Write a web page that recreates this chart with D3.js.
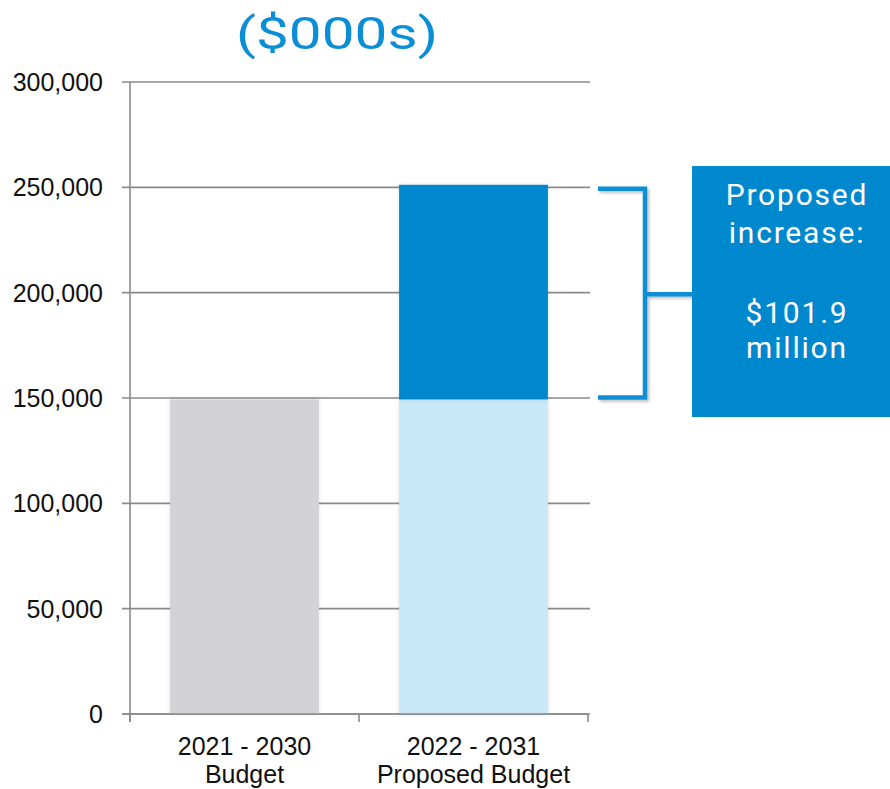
<!DOCTYPE html>
<html><head><meta charset="utf-8">
<script src="https://cdn.jsdelivr.net/npm/d3@7"></script>
<style>body{margin:0;background:#fff}svg{display:block}</style>
</head><body>
<svg id="c" width="890" height="789"></svg>
<script>
const categories = [["2021 - 2030","Budget"],["2022 - 2031","Proposed Budget"]];
const baseValues = [149300, 149300];
const increaseValues = [0, 101900];
const yTicks = [0,50000,100000,150000,200000,250000,300000];
const titleText = "($000s)";
const calloutLines = ["Proposed","increase:","","$101.9","million"];

(function(){
const svg = d3.select("#c");
const defs = svg.append("defs");
const f = defs.append("filter").attr("id","sh").attr("x","-20%").attr("y","-20%").attr("width","140%").attr("height","140%");
f.append("feDropShadow").attr("dx",2).attr("dy",2).attr("stdDeviation",1.5).attr("flood-color","#000").attr("flood-opacity",0.25);
const f2 = defs.append("filter").attr("id","sh2").attr("x","-10%").attr("y","-10%").attr("width","120%").attr("height","120%");
f2.append("feDropShadow").attr("dx",0).attr("dy",0).attr("stdDeviation",2).attr("flood-color","#000").attr("flood-opacity",0.12);

const x0 = 130, x1 = 588, yTop = 82, yBot = 714;
const y = d3.scaleLinear().domain([0,300000]).range([yBot,yTop]);
const x = d3.scaleBand().domain(categories.map(d=>d[0])).range([x0,x1]).paddingInner(0.35).paddingOuter(0.175);

svg.append("text").attr("x",236).attr("y",49)
  .attr("textLength",202).attr("lengthAdjust","spacingAndGlyphs")
  .attr("font-family","Roboto, sans-serif").attr("font-size",45).attr("fill","#0A8ED6").text(titleText);

svg.append("g").selectAll("line").data(yTicks).join("line")
  .attr("x1",122).attr("x2",x1+2).attr("y1",d=>y(d)).attr("y2",d=>y(d))
  .attr("stroke","#8a8a8a").attr("stroke-width",1.6);

const data = categories.map((c,i)=>({c:c[0],base:baseValues[i],inc:increaseValues[i]}));
const g = svg.append("g");
g.selectAll("rect.base").data(data).join("rect").attr("class","base")
  .attr("x",d=>x(d.c)).attr("width",x.bandwidth())
  .attr("y",d=>y(d.base)).attr("height",d=>y(0)-y(d.base))
  .attr("fill",(d,i)=>i===0?"#D3D3D5":"#C8E8F8").attr("filter","url(#sh2)");
g.selectAll("rect.inc").data(data.filter(d=>d.inc>0)).join("rect").attr("class","inc")
  .attr("x",d=>x(d.c)).attr("width",x.bandwidth())
  .attr("y",d=>y(d.base+d.inc)).attr("height",d=>y(d.base)-y(d.base+d.inc))
  .attr("fill","#0088CF").attr("filter","url(#sh2)");

const ax = svg.append("g").attr("stroke","#8a8a8a").attr("stroke-width",1.6);
ax.append("line").attr("x1",x0).attr("x2",x0).attr("y1",yTop).attr("y2",yBot+8);
ax.append("line").attr("x1",122).attr("x2",x1).attr("y1",yBot).attr("y2",yBot);
const xt = [x0, x0+(x1-x0)/2, x1];
ax.selectAll("line.xt").data(xt).join("line").attr("class","xt")
  .attr("x1",d=>d).attr("x2",d=>d).attr("y1",yBot).attr("y2",yBot+8);

svg.append("g").selectAll("text").data(yTicks).join("text")
  .attr("x",103).attr("y",d=>y(d)+9).attr("text-anchor","end")
  .attr("font-family","Liberation Sans, Arial, sans-serif").attr("font-size",25).attr("fill","#111")
  .text(d=>d3.format(",")(d));

const xl = svg.append("g").selectAll("text").data(categories).join("text")
  .attr("text-anchor","middle").attr("font-family","Liberation Sans, Arial, sans-serif")
  .attr("font-size",25).attr("fill","#111");
xl.each(function(d){
  const cx = x(d[0]) + x.bandwidth()/2;
  d3.select(this).selectAll("tspan").data(d).join("tspan")
    .attr("x",cx).attr("y",(t,i)=>755+i*28).text(t=>t);
});

const yt = y(baseValues[1]+increaseValues[1]), yb = y(baseValues[1]);
const bx = 645;
svg.append("path")
  .attr("d",`M598,${yt+4}H${bx}V${yb-2}H598 M${bx},${(yt+yb)/2+2}H695`)
  .attr("fill","none").attr("stroke","#0A8ED6").attr("stroke-width",4.5).attr("filter","url(#sh)");

svg.append("rect").attr("x",692).attr("y",166).attr("width",198).attr("height",251).attr("fill","#0088CF");
svg.append("g").selectAll("text").data(calloutLines).join("text")
  .attr("x",797).attr("y",(d,i)=>[205,243,283,323,358][i]).attr("text-anchor","middle")
  .attr("font-family","Roboto, sans-serif").attr("font-size",30).attr("letter-spacing",1.8)
  .attr("fill","#fff").text(d=>d);
})();
</script>
</body></html>
